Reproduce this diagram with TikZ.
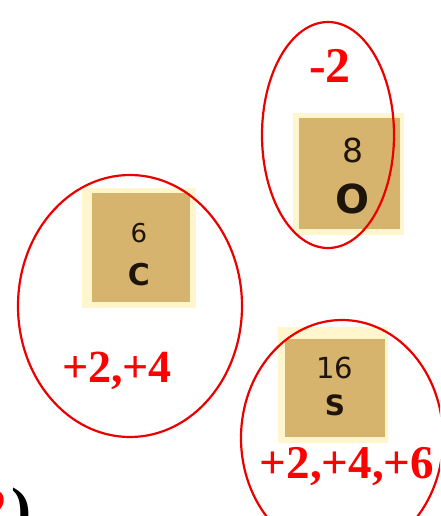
\documentclass[tikz,border=0pt]{standalone}
\usepackage{fontspec}
\setmainfont{Liberation Serif}
\newfontfamily\tilefont{DejaVu Sans}
\definecolor{tan}{RGB}{214,180,110}
\definecolor{cream}{RGB}{255,246,206}
\definecolor{ink}{RGB}{30,20,10}
\definecolor{ovalred}{RGB}{235,0,0}
\tikzset{
  oval/.style={draw=ovalred, line width=2.2pt},
  tileouter/.style={fill=cream, draw=none},
  tileinner/.style={fill=tan, draw=none},
  charge/.style={text=red, inner sep=0pt, anchor=base},
  tiletext/.style={text=ink, inner sep=0pt, anchor=base},
}
\begin{document}
\begin{tikzpicture}[x=1pt,y=-1pt]
\clip (0,0) rectangle (440,516);
\useasboundingbox (0,0) rectangle (440,516);
\fill[white] (0,0) rectangle (440,516);

% tiles
\fill[tileouter] (293,113) rectangle (404,235);
\fill[tileinner] (299,118) rectangle (400,229);
\fill[tileouter] (82,188) rectangle (196,308);
\fill[tileinner] (92,193) rectangle (190,302);
\fill[tileouter] (278,327) rectangle (388,443);
\fill[tileinner] (285,339) rectangle (385,437);

% tile texts
\node[tiletext, font=\tilefont\fontsize{33}{33}\selectfont] (numO) at (353,162) {8};
\node[tiletext, font=\tilefont\bfseries\fontsize{40}{40}\selectfont] (symO) at (352,213) {O};
\node[tiletext, font=\tilefont\fontsize{26}{26}\selectfont] (numC) at (139,242) {6};
\node[tiletext, font=\tilefont\bfseries\fontsize{30}{30}\selectfont] (symC) at (139,285) {C};
\node[tiletext, font=\tilefont\fontsize{29}{29}\selectfont] (numS) at (335,378) {16};
\node[tiletext, font=\tilefont\bfseries\fontsize{28}{28}\selectfont] (symS) at (335,415) {S};

% ovals
\draw[oval] (328,135) ellipse [x radius=66, y radius=113];
\draw[oval] (130,306) ellipse [x radius=112, y radius=131];
\draw[oval] (342,438) ellipse [x radius=101, y radius=118];

% charges
\node[charge, font=\bfseries\fontsize{50}{50}\selectfont] (chO) at (330,83) {-2};
\node[charge, font=\bfseries\fontsize{46}{46}\selectfont] (chC) at (117,382) {+2,+4};
\node[charge, font=\bfseries\fontsize{47}{47}\selectfont] (chS) at (347,478) {+2,+4,+6};

% cut-off text at bottom left
\node[text=red, font=\bfseries\fontsize{60}{60}\selectfont, inner sep=0pt, anchor=base east] (lbltwo) at (8,529) {2};
\node[text=black, font=\bfseries\fontsize{60}{60}\selectfont, inner sep=0pt, anchor=base west] (lblparen) at (11,529) {)};
\end{tikzpicture}
\end{document}
